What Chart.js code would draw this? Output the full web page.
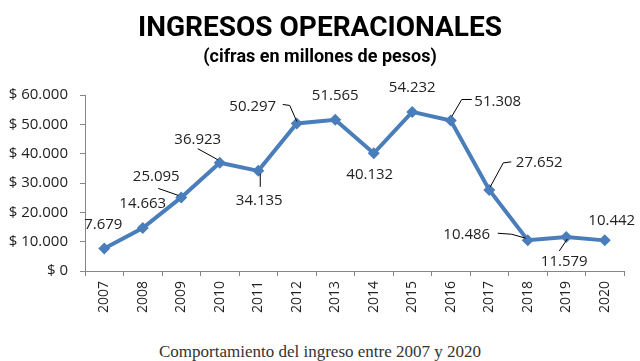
<!DOCTYPE html>
<html>
<head>
<meta charset="utf-8">
<script src="https://cdn.jsdelivr.net/npm/chart.js@4"></script>
<style>
  html, body { margin: 0; padding: 0; background: #fff; }
  #wrap { width: 640px; height: 336px; position: relative; }
  #caption {
    width: 640px; height: 25px; line-height: 31px; text-align: center;
    font-family: "Liberation Serif", serif; font-size: 17px; color: #333;
  }
</style>
</head>
<body>
<div id="wrap"><canvas id="ingresosChart"></canvas></div>
<div id="caption">Comportamiento del ingreso entre 2007 y 2020</div>
<script>
// Datos del gráfico (millones de pesos)
const years = ['2007', '2008', '2009', '2010', '2011', '2012', '2013', '2014', '2015', '2016', '2017', '2018', '2019', '2020'];
const ingresos = [7679, 14663, 25095, 36923, 34135, 50297, 51565, 40132, 54232, 51308, 27652, 10486, 11579, 10442];
const yTicks = [0, 10000, 20000, 30000, 40000, 50000, 60000];

// posición de cada etiqueta respecto a su punto, y líneas guía
const labelOffsets = [[-1, -24], [0, -24], [-25, -21], [-22, -23], [1, 30], [-44, -17], [0, -24],
  [-4, 21], [0, -24], [47, -19], [50, -27], [-61, -6], [-2, 25], [7, -20]];
const leaders = [null, null, [[-23, -9], [-3, -2]], [[-22, -14], [-2, -3]], [[2, 3], [2, 16]],
  [[-14, -19], [-7, -18], [0, -2]], null, null, null, [[21, -21], [11, -21], [1, -4]],
  [[22, -28], [14, -27], [1, -3]], [[-30, -7], [-16, -6], [-2, -2]], [[1, 2], [-7, 14]], null];

function miles(v) {
    return String(v).replace(/\B(?=(\d{3})+(?!\d))/g, '.');
}

const titulos = {
    id: 'titulos',
    afterDraw(chart) {
        const ctx = chart.ctx;
        ctx.save();
        ctx.fillStyle = '#000';
        ctx.textAlign = 'center';
        ctx.textBaseline = 'middle';
        ctx.font = 'bold 28px Roboto';
        ctx.fillText('INGRESOS OPERACIONALES', 320, 29);
        ctx.font = 'bold 18px Roboto';
        ctx.fillText('(cifras en millones de pesos)', 320, 57);
        ctx.restore();
    }
};

const etiquetas = {
    id: 'etiquetas',
    afterDatasetsDraw(chart) {
        const ctx = chart.ctx;
        const pts = chart.getDatasetMeta(0).data;
        ctx.save();
        ctx.strokeStyle = '#000';
        ctx.lineWidth = 1;
        pts.forEach((p, i) => {
            const l = leaders[i];
            if (l) {
                ctx.beginPath();
                l.forEach((q, j) => {
                    if (j === 0) ctx.moveTo(p.x + q[0], p.y + q[1]);
                    else ctx.lineTo(p.x + q[0], p.y + q[1]);
                });
                ctx.stroke();
            }
        });
        ctx.fillStyle = '#222';
        ctx.font = '15px "Open Sans"';
        ctx.textAlign = 'center';
        ctx.textBaseline = 'middle';
        pts.forEach((p, i) => {
            ctx.fillText(miles(ingresos[i]), p.x + labelOffsets[i][0], p.y + labelOffsets[i][1]);
        });
        ctx.restore();
    }
};

const ctx = document.getElementById('ingresosChart').getContext('2d');
new Chart(ctx, {
    type: 'line',
    data: {
        labels: years,
        datasets: [{
            data: ingresos,
            borderColor: '#4a7ebb',
            backgroundColor: '#4a7ebb',
            borderWidth: 4,
            tension: 0,
            pointStyle: 'rectRot',
            pointRadius: 6,
            pointBorderWidth: 0,
            pointBackgroundColor: '#4a7ebb'
        }]
    },
    options: {
        responsive: true,
        maintainAspectRatio: false,
        animation: false,
        layout: { padding: { top: 95, right: 16, left: 0, bottom: 0 } },
        plugins: {
            legend: { display: false },
            tooltip: { enabled: false }
        },
        scales: {
            x: {
                offset: true,
                afterFit(scale) { scale.height = 65; },
                grid: {
                    offset: true,
                    drawOnChartArea: false,
                    drawTicks: true,
                    tickLength: 5,
                    color: '#868686'
                },
                border: { color: '#868686', width: 1 },
                ticks: {
                    minRotation: 90,
                    maxRotation: 90,
                    padding: 5,
                    color: '#222',
                    font: { size: 14, family: "'Open Sans'" }
                }
            },
            y: {
                min: 0,
                max: 60000,
                afterFit(scale) { scale.width = 85; },
                afterBuildTicks(scale) { scale.ticks = yTicks.map(v => ({ value: v })); },
                grid: {
                    drawOnChartArea: false,
                    drawTicks: true,
                    tickLength: 5,
                    color: '#868686'
                },
                border: { color: '#868686', width: 1 },
                ticks: {
                    padding: 12,
                    color: '#222',
                    font: { size: 15, family: "'Open Sans'" },
                    callback: v => '$ ' + miles(v)
                }
            }
        }
    },
    plugins: [titulos, etiquetas]
});
</script>
</body>
</html>
